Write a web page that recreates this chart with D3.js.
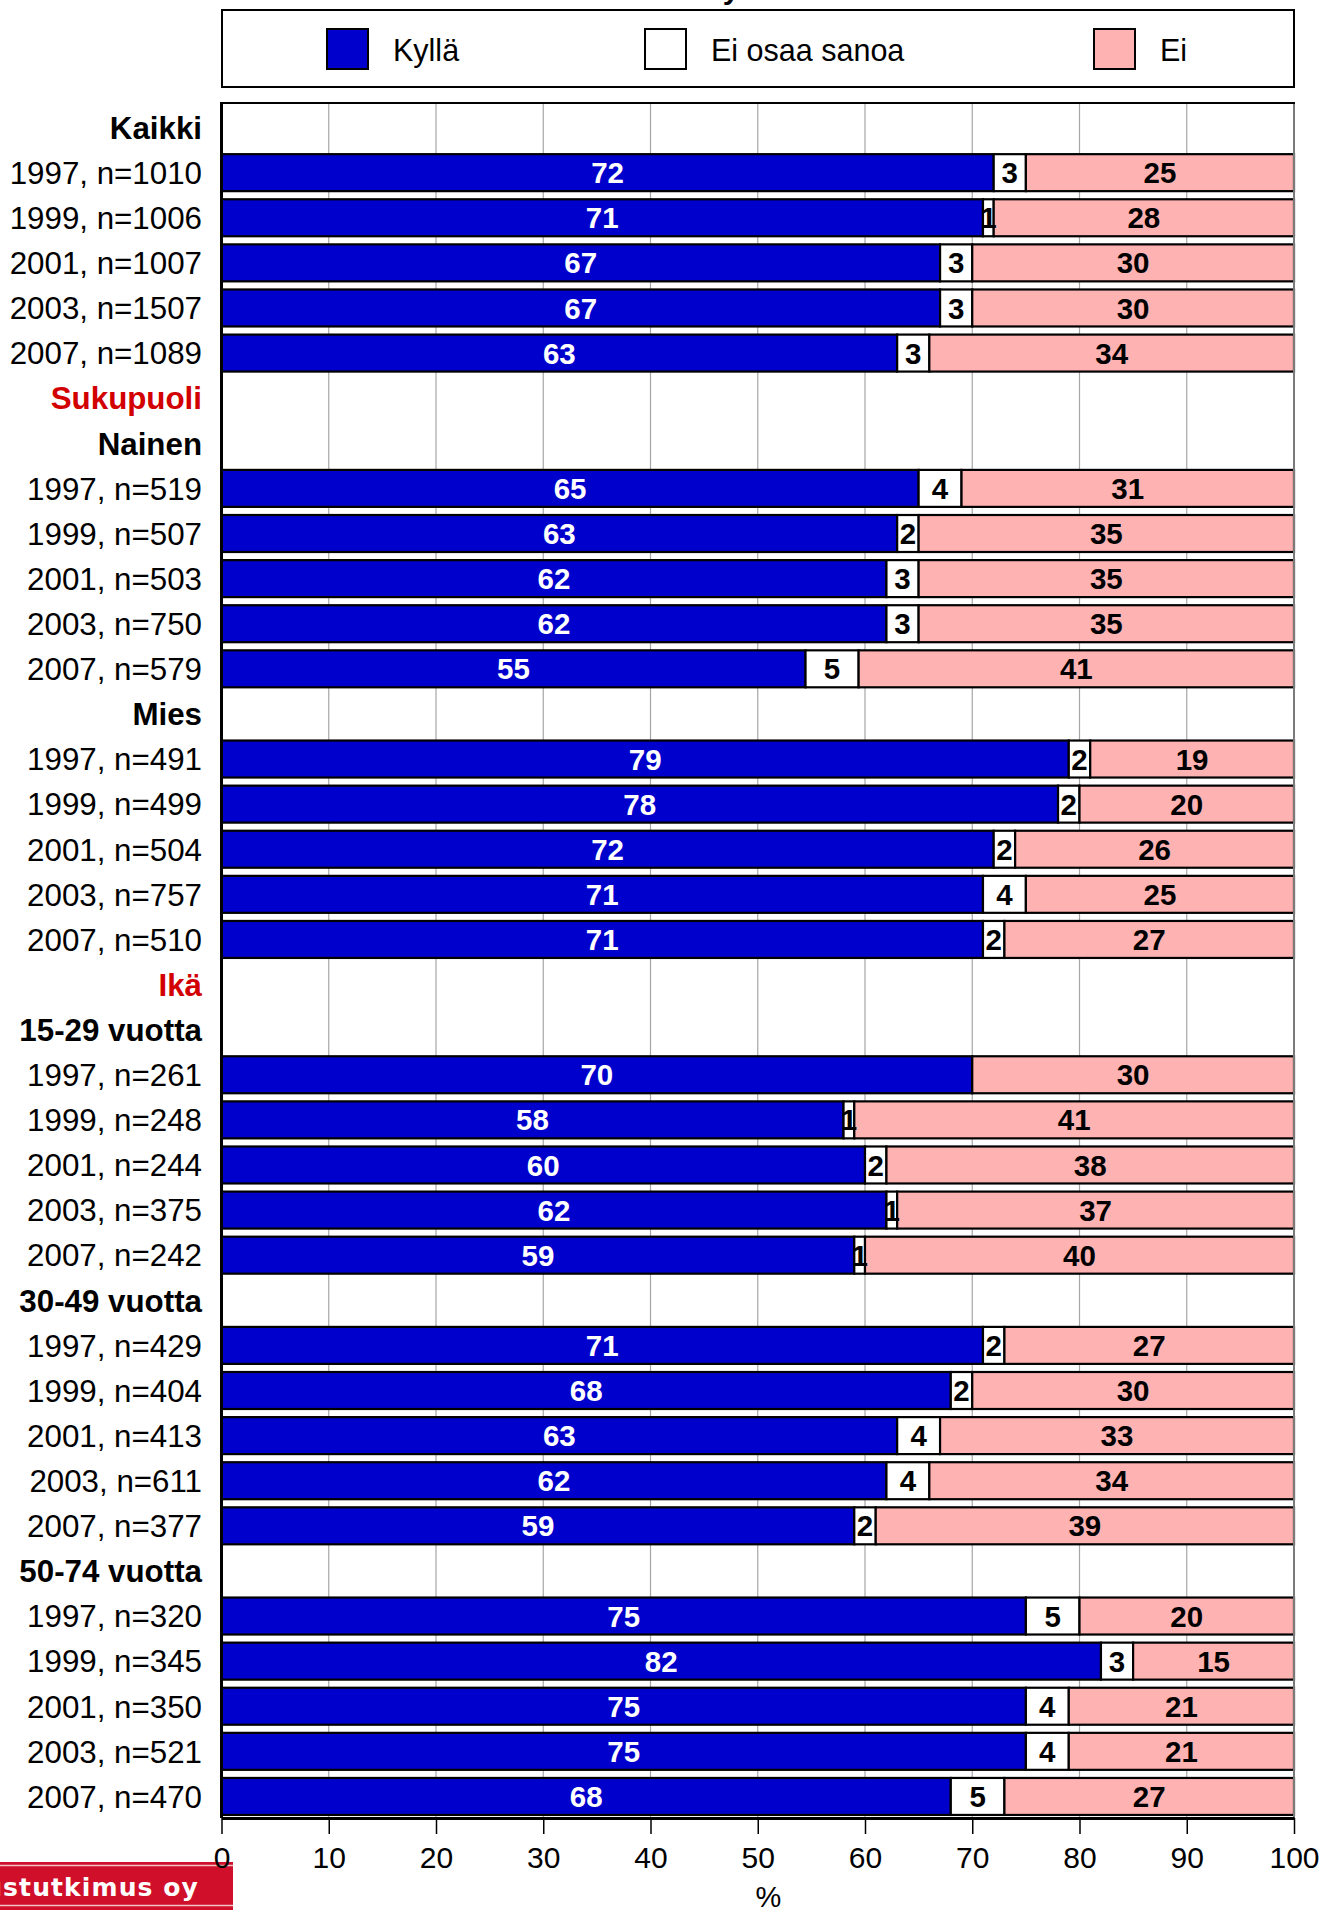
<html>
<head>
<meta charset="utf-8">
<script src="https://d3js.org/d3.v7.min.js"></script>
<style>
  body { margin: 0; background: #fff; }
  svg { display: block; font-family: "Liberation Sans", Arial, sans-serif; }
</style>
</head>
<body>
<svg id="chart" width="1338" height="1910"></svg>
<script>
// row labels, top to bottom
const rowOrder = [
  "Kaikki", "1997, n=1010", "1999, n=1006", "2001, n=1007", "2003, n=1507", "2007, n=1089",
  "Sukupuoli",
  "Nainen", "1997, n=519", "1999, n=507", "2001, n=503", "2003, n=750", "2007, n=579",
  "Mies", "1997, n=491", "1999, n=499", "2001, n=504", "2003, n=757", "2007, n=510",
  "Ikä",
  "15-29 vuotta", "1997, n=261", "1999, n=248", "2001, n=244", "2003, n=375", "2007, n=242",
  "30-49 vuotta", "1997, n=429", "1999, n=404", "2001, n=413", "2003, n=611", "2007, n=377",
  "50-74 vuotta", "1997, n=320", "1999, n=345", "2001, n=350", "2003, n=521", "2007, n=470"
]
const groupHeads = ["Kaikki", "Nainen", "Mies", "15-29 vuotta", "30-49 vuotta", "50-74 vuotta"]
const sectionHeads = ["Sukupuoli", "Ikä"]

// bar rows in the same order as they appear above
const barRows = [
  "1997, n=1010", "1999, n=1006", "2001, n=1007", "2003, n=1507", "2007, n=1089",
  "1997, n=519", "1999, n=507", "2001, n=503", "2003, n=750", "2007, n=579",
  "1997, n=491", "1999, n=499", "2001, n=504", "2003, n=757", "2007, n=510",
  "1997, n=261", "1999, n=248", "2001, n=244", "2003, n=375", "2007, n=242",
  "1997, n=429", "1999, n=404", "2001, n=413", "2003, n=611", "2007, n=377",
  "1997, n=320", "1999, n=345", "2001, n=350", "2003, n=521", "2007, n=470"
]
const kylla = [72,71,67,67,63, 65,63,62,62,55, 79,78,72,71,71, 70,58,60,62,59, 71,68,63,62,59, 75,82,75,75,68]
const eos   = [3,1,3,3,3,     4,2,3,3,5,      2,2,2,4,2,      0,1,2,1,1,      2,2,4,4,2,      5,3,4,4,5]
const ei    = [25,28,30,30,34, 31,35,35,35,41, 19,20,26,25,27, 30,41,38,37,40, 27,30,33,34,39, 20,15,21,21,27]

const seriesNames = ["Kyllä", "Ei osaa sanoa", "Ei"]
const seriesColors = ["#0000cc", "#ffffff", "#ffb2b2"]
const labelColors = ["#ffffff", "#000000", "#000000"]
const xTicks = [0,10,20,30,40,50,60,70,80,90,100]

const svg = d3.select("#chart")
const plotTop = 103, plotBottom = 1818
const x = d3.scaleLinear().domain([0, 100]).range([221.5, 1294])
const y = d3.scaleBand().domain(d3.range(rowOrder.length)).range([105, 1819])
  .paddingInner(0.18).paddingOuter(0.09)

// cut-off title (only the descender shows)
svg.append("text").attr("x", 731).attr("y", -1).attr("text-anchor", "middle")
  .attr("font-size", 30).attr("font-weight", "bold").text("y")

// legend
svg.append("rect").attr("x", 222).attr("y", 10).attr("width", 1072).attr("height", 77)
  .attr("fill", "#fff").attr("stroke", "#000").attr("stroke-width", 2)
const legendX = [327, 645, 1094]
seriesNames.forEach((s, i) => {
  svg.append("rect").attr("x", legendX[i]).attr("y", 29).attr("width", 41).attr("height", 40)
    .attr("fill", seriesColors[i]).attr("stroke", "#000").attr("stroke-width", 2)
  svg.append("text").attr("x", legendX[i] + 66).attr("y", 60.5)
    .attr("font-size", 30.5).text(s)
})

// plot background + gridlines
svg.append("rect").attr("x", x(0)).attr("y", plotTop).attr("width", x(100) - x(0))
  .attr("height", plotBottom - plotTop).attr("fill", "#fff")
svg.append("g").selectAll("line").data(xTicks.slice(1, -1)).enter().append("line")
  .attr("x1", d => x(d)).attr("x2", d => x(d))
  .attr("y1", plotTop).attr("y2", plotBottom)
  .attr("stroke", "#a6a6a6").attr("stroke-width", 1.2)

// bars
const rows = barRows.map((r, i) => {
  const vals = [kylla[i], eos[i], ei[i]]
  const tot = d3.sum(vals)
  let c = 0
  const segs = vals.map((v, k) => {
    const s = { k: k, v: v, x0: c / tot * 100, x1: (c + v) / tot * 100 }
    c += v
    return s
  })
  return { label: r, idx: rowOrder.indexOf(r), segs: segs }
})

const rowG = svg.append("g").selectAll("g").data(rows).enter().append("g")
  .attr("transform", d => "translate(0," + y(d.idx) + ")")

rowG.selectAll("rect").data(d => d.segs.filter(s => s.v > 0)).enter().append("rect")
  .attr("x", s => x(s.x0)).attr("width", s => x(s.x1) - x(s.x0))
  .attr("y", 0).attr("height", y.bandwidth())
  .attr("fill", s => seriesColors[s.k]).attr("stroke", "#000").attr("stroke-width", 2.2)

rowG.selectAll("text").data(d => d.segs.filter(s => s.v > 0)).enter().append("text")
  .attr("x", s => x((s.x0 + s.x1) / 2)).attr("y", y.bandwidth() / 2).attr("dy", "0.36em")
  .attr("text-anchor", "middle").attr("font-size", 29.5).attr("font-weight", "bold")
  .attr("fill", s => labelColors[s.k]).text(s => s.v)

// row labels
svg.append("g").selectAll("text").data(rowOrder).enter().append("text")
  .attr("x", 202).attr("y", (d, i) => y(i) + y.bandwidth() / 2).attr("dy", "0.36em")
  .attr("text-anchor", "end").attr("font-size", 31.3)
  .attr("font-weight", d => (groupHeads.includes(d) || sectionHeads.includes(d)) ? "bold" : "normal")
  .attr("fill", d => sectionHeads.includes(d) ? "#d20000" : "#000")
  .text(d => d)

// frame
svg.append("line").attr("x1", x(100)).attr("x2", x(100)).attr("y1", plotTop).attr("y2", plotBottom)
  .attr("stroke", "#7a7a7a").attr("stroke-width", 2)
svg.append("line").attr("x1", x(0)).attr("x2", x(100) + 1).attr("y1", plotTop).attr("y2", plotTop)
  .attr("stroke", "#000").attr("stroke-width", 2)
svg.append("line").attr("x1", x(0)).attr("x2", x(0)).attr("y1", plotTop - 1).attr("y2", plotBottom)
  .attr("stroke", "#000").attr("stroke-width", 3)

// logo strip
svg.append("rect").attr("x", 0).attr("y", 1862).attr("width", 233).attr("height", 48).attr("fill", "#d0102a")
svg.append("line").attr("x1", 0).attr("x2", 233).attr("y1", 1865.5).attr("y2", 1865.5)
  .attr("stroke", "#f3c0c6").attr("stroke-width", 1.5)
svg.append("line").attr("x1", 0).attr("x2", 233).attr("y1", 1905.5).attr("y2", 1905.5)
  .attr("stroke", "#f3c0c6").attr("stroke-width", 1.5)
svg.append("text").attr("x", 199).attr("y", 1896).attr("text-anchor", "end")
  .attr("font-family", "'DejaVu Sans', sans-serif").attr("font-weight", "bold")
  .attr("letter-spacing", 1.1)
  .attr("font-size", 25).attr("fill", "#fff").text("Taloustutkimus oy")

// x axis (drawn after the logo so the "0" sits on top)
const ax = svg.append("g").attr("transform", "translate(0," + plotBottom + ")")
  .call(d3.axisBottom(x).tickValues(xTicks).tickSize(16).tickSizeOuter(0).tickPadding(13))
ax.select(".domain").attr("stroke", "#000").attr("stroke-width", 3)
ax.selectAll(".tick line").attr("stroke", "#000").attr("stroke-width", 1.5)
ax.selectAll(".tick text").attr("font-size", 30).attr("font-family", "'Liberation Sans', Arial, sans-serif")
  .attr("fill", "#000")

svg.append("text").attr("x", x(51)).attr("y", 1907).attr("text-anchor", "middle")
  .attr("font-size", 29).text("%")
</script>
</body>
</html>
